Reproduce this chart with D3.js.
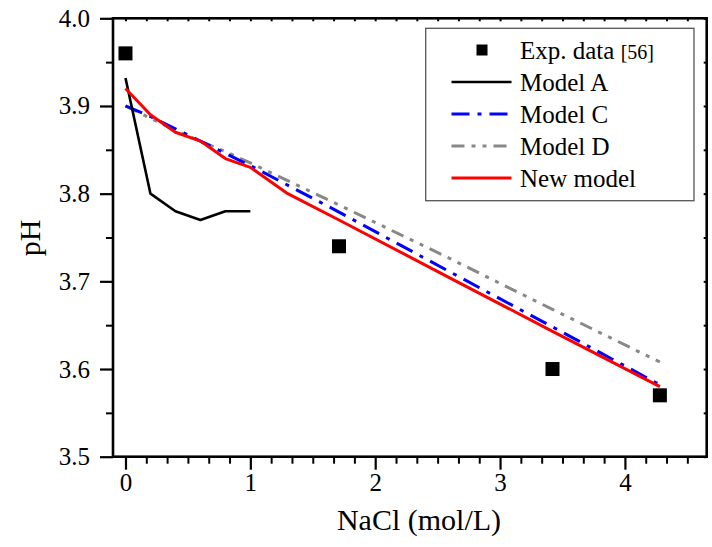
<!DOCTYPE html>
<html><head><meta charset="utf-8">
<script src="https://cdn.jsdelivr.net/npm/d3@7"></script>
<style>body{margin:0;background:#fff} svg text{font-family:"Liberation Serif","Times New Roman","DejaVu Serif",serif !important;fill:#000}</style>
</head><body><svg id="c" width="712" height="547"></svg>
<script>
// ---- data ----
const expX = [0, 1.71, 3.42, 4.28];
const expY = [3.96, 3.74, 3.60, 3.57];
const modelAX = [0, 0.2, 0.4, 0.6, 0.8, 1.0];
const modelAY = [3.932, 3.80, 3.78, 3.77, 3.78, 3.78];
const modelCX = [0, 0.2, 0.4, 0.6, 0.8, 1.0, 1.71, 2.57, 3.42, 4.28];
const modelCY = [3.90, 3.888, 3.874, 3.86, 3.846, 3.832, 3.779, 3.713, 3.648, 3.582];
const modelDX = [0, 0.2, 0.4, 0.6, 0.8, 1.0, 1.71, 2.57, 3.42, 4.28];
const modelDY = [3.90, 3.886, 3.872, 3.86, 3.848, 3.835, 3.787, 3.728, 3.668, 3.608];
const newX = [0, 0.2, 0.4, 0.6, 0.8, 1.0, 1.3, 1.71, 2.57, 3.42, 4.28];
const newY = [3.92, 3.89, 3.87, 3.86, 3.84, 3.83, 3.80, 3.77, 3.706, 3.643, 3.58];
const xTicks = [0, 1, 2, 3, 4];
const yTicks = [3.5, 3.6, 3.7, 3.8, 3.9, 4.0];
const legendLabels = ["Exp. data", "Model A", "Model C", "Model D", "New model"];
const expRef = "[56]";
const xTitle = "NaCl (mol/L)";
const yTitle = "pH";

// ---- layout ----
const FONT = "'Liberation Serif', 'Times New Roman', 'DejaVu Serif', serif";
const L = 113, R = 706.7, T = 18.3, B = 456.7;
const svg = d3.select("#c").attr("font-family", FONT);
const x = d3.scaleLinear().domain([-0.1, 4.655]).range([L, R]);
const y = d3.scaleLinear().domain([3.5, 4.0]).range([B, T]);

const xMinor = d3.range(1, 28).filter(k => k % 6 !== 0).map(k => k / 6);
const yMinor = [3.55, 3.65, 3.75, 3.85, 3.95];

function styleAxis(g, w) {
  g.attr("font-family", FONT);
  g.select(".domain").remove();
  g.selectAll("line").attr("stroke", "#000").attr("stroke-width", w);
}
// bottom
svg.append("g").attr("transform", `translate(0,${B})`)
  .call(d3.axisBottom(x).tickValues(xMinor).tickSize(7).tickFormat(""))
  .call(g => styleAxis(g, 2));
svg.append("g").attr("transform", `translate(0,${B})`)
  .call(d3.axisBottom(x).tickValues(xTicks).tickSize(13).tickPadding(4).tickFormat(d3.format("d")))
  .call(g => styleAxis(g, 2.2))
  .call(g => g.selectAll("text").attr("font-size", 25).style("font-family", FONT).attr("fill", "#000"));
// left
svg.append("g").attr("transform", `translate(${L},0)`)
  .call(d3.axisLeft(y).tickValues(yMinor).tickSize(7).tickFormat(""))
  .call(g => styleAxis(g, 2));
svg.append("g").attr("transform", `translate(${L},0)`)
  .call(d3.axisLeft(y).tickValues(yTicks).tickSize(13).tickPadding(10).tickFormat(d3.format(".1f")))
  .call(g => styleAxis(g, 2.2))
  .call(g => g.selectAll("text").attr("font-size", 25).style("font-family", FONT).attr("fill", "#000"));
// top (inward)
svg.append("g").attr("transform", `translate(0,${T})`)
  .call(d3.axisTop(x).tickValues(xTicks.concat(xMinor)).tickSize(-3).tickFormat(""))
  .call(g => styleAxis(g, 2));
// right (inward)
svg.append("g").attr("transform", `translate(${R},0)`)
  .call(d3.axisRight(y).tickValues(yTicks.concat(yMinor)).tickSize(-3).tickFormat(""))
  .call(g => styleAxis(g, 2));
// frame
svg.append("rect").attr("x", L).attr("y", T).attr("width", R - L).attr("height", B - T)
  .attr("fill", "none").attr("stroke", "#000").attr("stroke-width", 2.6);

// titles
svg.append("text").attr("x", 419).attr("y", 530).attr("text-anchor", "middle").attr("font-size", 30).style("font-family", FONT).text(xTitle);
svg.append("text").attr("transform", "translate(40,238) rotate(-90)").attr("text-anchor", "middle").attr("font-size", 30).style("font-family", FONT).text(yTitle);

// lines
const line = d3.line().x(d => x(d[0])).y(d => y(d[1]));
const zip = (a, b) => a.map((v, i) => [v, b[i]]);
const series = [
  { xs: modelDX, ys: modelDY, color: "#888888", w: 3, dash: "13,7,4,7,4,7" },
  { xs: modelCX, ys: modelCY, color: "#0000ff", w: 3, dash: "18,8,4,8" },
  { xs: modelAX, ys: modelAY, color: "#000000", w: 2.6, dash: null },
  { xs: newX, ys: newY, color: "#ff0000", w: 3, dash: null }
];
series.forEach(s => {
  svg.append("path").attr("d", line(zip(s.xs, s.ys))).attr("fill", "none")
    .attr("stroke", s.color).attr("stroke-width", s.w).attr("stroke-linejoin", "round")
    .attr("stroke-dasharray", s.dash);
});
// experimental squares
const sq = 14;
svg.append("g").selectAll("rect").data(zip(expX, expY)).join("rect")
  .attr("x", d => x(d[0]) - sq / 2).attr("y", d => y(d[1]) - sq / 2)
  .attr("width", sq).attr("height", sq).attr("fill", "#000");

// legend
const lg = svg.append("g");
lg.append("rect").attr("x", 425.7).attr("y", 28.3).attr("width", 268.3).attr("height", 172.4)
  .attr("fill", "#fff").attr("stroke", "#555").attr("stroke-width", 1.3);
const rowY = i => 50 + i * 32;
legendLabels.forEach((lab, i) => {
  const cy = rowY(i);
  if (i === 0) {
    lg.append("rect").attr("x", 482 - 5.5).attr("y", cy - 5.5).attr("width", 11).attr("height", 11).attr("fill", "#000");
    const t = lg.append("text").attr("x", 520).attr("y", cy + 9).attr("font-size", 25).style("font-family", FONT);
    t.append("tspan").text(lab + " ");
    t.append("tspan").attr("font-size", 20).text(expRef);
  } else {
    const s = [null, series[2], series[1], series[0], series[3]][i];
    lg.append("line").attr("x1", 451.5).attr("x2", 511.5).attr("y1", cy).attr("y2", cy)
      .attr("stroke", s.color).attr("stroke-width", s.w).attr("stroke-dasharray", s.dash);
    lg.append("text").attr("x", 520).attr("y", cy + 9).attr("font-size", 25).style("font-family", FONT).text(lab);
  }
});
</script></body></html>
